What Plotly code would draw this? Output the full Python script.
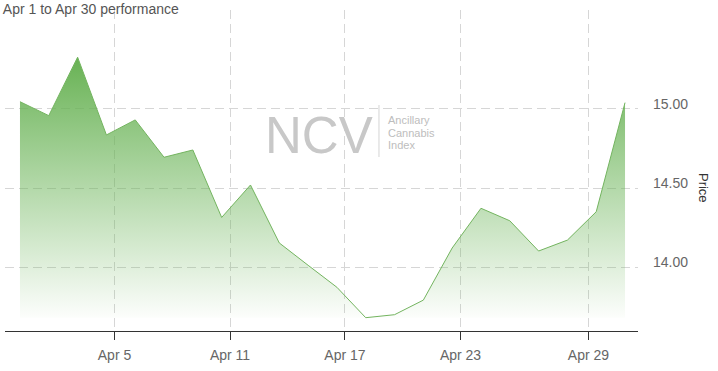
import plotly.graph_objects as go

# ---- data ----
prices = [15.046, 14.958, 15.327, 14.836, 14.931, 14.695, 14.741, 14.315,
          14.520, 14.154, 14.013, 13.874, 13.682, 13.701, 13.793, 14.122,
          14.373, 14.294, 14.103, 14.172, 14.351, 15.040]
point_index = list(range(len(prices)))
tick_labels = ["Apr 5", "Apr 11", "Apr 17", "Apr 23", "Apr 29"]
tick_positions = [3.28, 7.29, 11.28, 15.29, 19.73]
price_ticks = [14.0, 14.5, 15.0]
title_text = "Apr 1 to Apr 30 performance"

FONT = "Liberation Sans, Arial, sans-serif"
base_val = min(prices)

fig = go.Figure()
fig.add_trace(go.Scatter(
    x=point_index, y=[base_val] * len(prices), mode="lines",
    line=dict(width=0, color="rgba(0,0,0,0)"), hoverinfo="skip", showlegend=False))
fig.add_trace(go.Scatter(
    x=point_index, y=prices, mode="lines",
    line=dict(color="rgb(115,180,95)", width=1),
    fill="tonexty",
    fillgradient=dict(type="vertical",
                      colorscale=[[0, "rgba(108,181,89,0.02)"], [1, "rgba(104,178,84,1)"]],
                      start=base_val, stop=max(prices)),
    showlegend=False))

grid = "#d6d6d6"
fig.update_layout(
    width=718, height=371,
    margin=dict(l=5, r=80, t=10, b=40),
    paper_bgcolor="white", plot_bgcolor="white",
    font=dict(family=FONT, color="#666"),
    title=dict(text=title_text, x=0.004, xref="container", xanchor="left",
               y=1 - 9 / 371, yref="container", yanchor="middle",
               font=dict(size=14, color="#555", family=FONT)),
    xaxis=dict(range=[-0.52, 21.45], tickvals=tick_positions, ticktext=tick_labels,
               showline=True, linecolor="#333", linewidth=1,
               ticks="outside", ticklen=8, tickcolor="#333", tickwidth=1,
               showgrid=True, gridcolor=grid, griddash="9px,5px", gridwidth=1,
               zeroline=False, ticklabelstandoff=3,
               tickfont=dict(size=14, color="#666", family=FONT)),
    yaxis=dict(side="right", range=[13.598, 15.625], tickvals=price_ticks,
               tickformat=".2f", showgrid=True, gridcolor=grid, griddash="9px,5px",
               gridwidth=1, showline=False, ticks="", zeroline=False,
               ticklabelstandoff=14, ticklabelshift=-5,
               tickfont=dict(size=14, color="#666", family=FONT)),
)

wm = "#c8c8c8"
fig.add_annotation(text="NCV", xref="paper", yref="paper", x=0.4964, y=0.61,
                   xanchor="center", yanchor="middle", showarrow=False,
                   font=dict(size=51, color=wm, family=FONT))
fig.add_shape(type="line", xref="paper", yref="paper", x0=0.5908, x1=0.5908,
              y0=0.542, y1=0.704, line=dict(color="#d4d4d4", width=1))
for txt, yy in zip(["Ancillary", "Cannabis", "Index"], [0.657, 0.618, 0.579]):
    fig.add_annotation(text=txt, xref="paper", yref="paper", x=0.603, y=yy,
                       xanchor="left", yanchor="middle", showarrow=False,
                       borderpad=0,
                       font=dict(size=11, color="#bdbdbd", family=FONT))
fig.add_annotation(text="Price", xref="paper", yref="paper", x=1.1027, y=0.4455,
                   xanchor="center", yanchor="middle", showarrow=False, textangle=90,
                   font=dict(size=13, color="#333", family=FONT))

fig.write_html("out.html")
